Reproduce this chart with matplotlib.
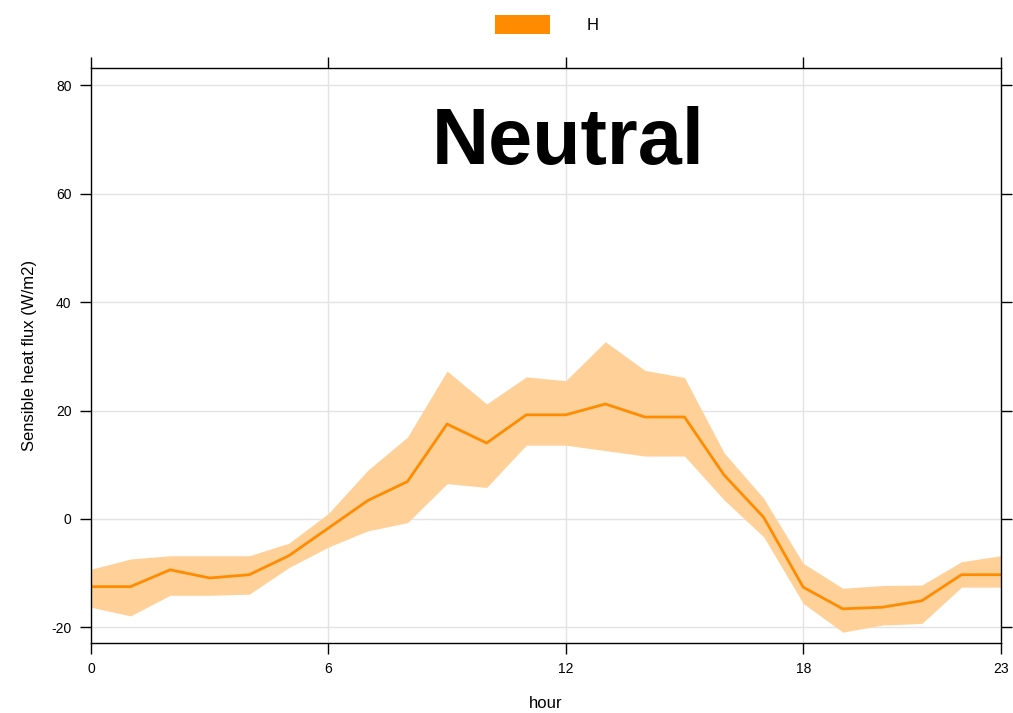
import matplotlib
matplotlib.use("Agg")
import matplotlib.pyplot as plt
from matplotlib.patches import Patch

hours = list(range(24))
h_mean = [-12.5, -12.5, -9.4, -10.9, -10.3, -6.8, -1.7, 3.4, 6.9, 17.5, 14.0, 19.2,
          19.2, 21.2, 18.8, 18.8, 8.1, 0.3, -12.6, -16.6, -16.3, -15.1, -10.3, -10.3]
h_upper = [-9.3, -7.4, -6.8, -6.8, -6.8, -4.5, 1.0, 9.0, 15.1, 27.3, 21.2, 26.2,
           25.5, 32.7, 27.4, 26.1, 12.2, 3.8, -8.2, -12.8, -12.3, -12.2, -7.9, -6.8]
h_lower = [-16.3, -17.9, -14.1, -14.1, -13.9, -9.0, -5.2, -2.2, -0.7, 6.5, 5.8, 13.6,
           13.6, 12.6, 11.6, 11.6, 3.5, -3.3, -15.6, -20.9, -19.6, -19.3, -12.6, -12.6]
x_ticks = [0, 6, 12, 18, 23]
y_ticks = [-20, 0, 20, 40, 60, 80]

line_col = "#FF8C00"
band_col = "#FFD199"

plt.rcParams["font.family"] = ["Liberation Sans", "DejaVu Sans"]
plt.rcParams["axes.unicode_minus"] = False

fig = plt.figure(figsize=(10.13, 7.13), dpi=100)
ax = fig.add_axes([0.0898, 0.0982, 0.8984, 0.8064])

ax.fill_between(hours, h_lower, h_upper, color=band_col, linewidth=0)
ax.plot(hours, h_mean, color=line_col, linewidth=2)

ax.set_xlim(0, 23)
ax.set_ylim(-22.9, 83.2)
ax.set_xticks(x_ticks)
ax.set_yticks(y_ticks)
ax.grid(True, color="#E3E3E3", linewidth=1)
ax.set_axisbelow(True)

ax.tick_params(direction="out", length=8, width=1, labelsize=10, colors="black",
               top=True, right=True, labeltop=False, labelright=False, pad=6)
for s in ax.spines.values():
    s.set_color("black")
    s.set_linewidth(1)

ax.set_xlabel("hour", fontsize=12, labelpad=14)
ax.set_ylabel("Sensible heat flux (W/m2)", fontsize=12, labelpad=10)

ax.text(12.05, 69.2, "Neutral", fontsize=57, fontweight="bold", ha="center", va="center")

fig.legend(handles=[Patch(facecolor=line_col, edgecolor="none", label="H")],
           loc="upper center", bbox_to_anchor=(0.54, 1.0), frameon=False,
           handlelength=3.3, handleheight=1.4, fontsize=12, handletextpad=2.2)

fig.savefig("out.png", dpi=100)
